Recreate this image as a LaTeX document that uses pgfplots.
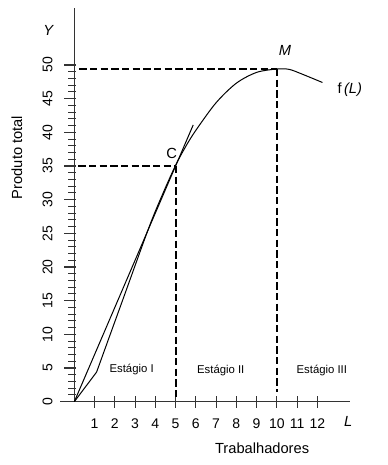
\documentclass[border=0pt]{standalone}
\usepackage{pgfplots}
\pgfplotsset{compat=1.18}
\usepackage{fontspec}
\setmainfont{Liberation Sans}
\begin{document}
\begin{tikzpicture}
\begin{axis}[
  x=15.19pt, y=5.05pt,
  xmin=-0.7, xmax=13.6, ymin=0, ymax=58.5,
  axis lines=middle,
  axis line style={-, line width=0.9pt, black!80},
  every inner x axis line/.append style={-},
  every inner y axis line/.append style={-},
  hide obscured x ticks=false, hide obscured y ticks=false,
  xtick={1,...,12}, ytick={0,5,...,50},
  minor y tick num=4,
  tick align=center,
  major tick length=9pt, minor tick length=6pt,
  tick style={line width=0.8pt, black!80},
  every major y tick/.append style={xshift=-3pt},
  every minor y tick/.append style={xshift=-1.5pt},
  ticklabel style={font=\fontsize{10.5pt}{12pt}\selectfont},
  /pgf/number format/assume math mode=true,
  yticklabel style={xshift=-8.2pt, rotate=90, anchor=south, inner sep=3.5pt},
  xticklabel style={anchor=north, yshift=-5pt},
  clip=false,
]
% ray from origin (tangent at C)
\addplot[black, line width=0.75pt] coordinates {(0,0) (5.87,41.1)};
% production function f(L)
\addplot[black, line width=0.75pt] coordinates {(0,0) (1.1,4.4)};
\addplot[black, line width=0.75pt, smooth] coordinates {
 (1.1,4.4) (2.4,15.2) (3.7,26.0) (4.4,31.1) (5,35.1) (5.5,37.9) (6,40.3)
 (7,44.4) (8,47.3) (9,48.9) (10,49.4) (10.6,49.35) (11.2,48.7) (12.25,47.4)};
% dashed guides
\addplot[black, line width=1.5pt, dash pattern=on 5.5pt off 2.5pt] coordinates {(0.25,49.4) (10,49.4)};
\addplot[black, line width=1.5pt, dash pattern=on 5.5pt off 2.5pt] coordinates {(10,49.4) (10,1.5)};
\addplot[black, line width=1.5pt, dash pattern=on 5.5pt off 2.5pt] coordinates {(0.2,35) (5,35)};
\addplot[black, line width=1.5pt, dash pattern=on 5.5pt off 2.5pt] coordinates {(5,35) (5,0.5)};
% labels
\node[font=\fontsize{11pt}{13pt}\selectfont\itshape] at (axis cs:-1.28,55.2) {Y};
\node[font=\fontsize{11pt}{13pt}\selectfont\itshape] at (axis cs:13.52,-2.97) {L};
\node[font=\fontsize{11pt}{13pt}\selectfont\itshape] at (axis cs:10.4,52.2) {M};
\node[font=\fontsize{11pt}{13pt}\selectfont] at (axis cs:4.8,36.9) {C};
\node[font=\fontsize{11pt}{13pt}\selectfont] at (axis cs:13.6,46.4) {f\,\textit{(L)}};
\node[font=\fontsize{11pt}{13pt}\selectfont] at (axis cs:9.27,-6.88) {Trabalhadores};
\node[font=\fontsize{11pt}{13pt}\selectfont, rotate=90] at (axis cs:-2.83,36.26) {Produto total};
\node[font=\fontsize{8.5pt}{10pt}\selectfont] at (axis cs:2.83,4.81) {Estágio I};
\node[font=\fontsize{8.5pt}{10pt}\selectfont] at (axis cs:7.23,4.7) {Estágio II};
\node[font=\fontsize{8.5pt}{10pt}\selectfont] at (axis cs:12.22,4.7) {Estágio III};
\coordinate (bbl) at (axis cs:-3.669,-9.40);
\coordinate (btr) at (axis cs:15.442,59.65);
\end{axis}
\pgfresetboundingbox
\path[use as bounding box] (bbl) rectangle (btr);
\end{tikzpicture}
\end{document}
